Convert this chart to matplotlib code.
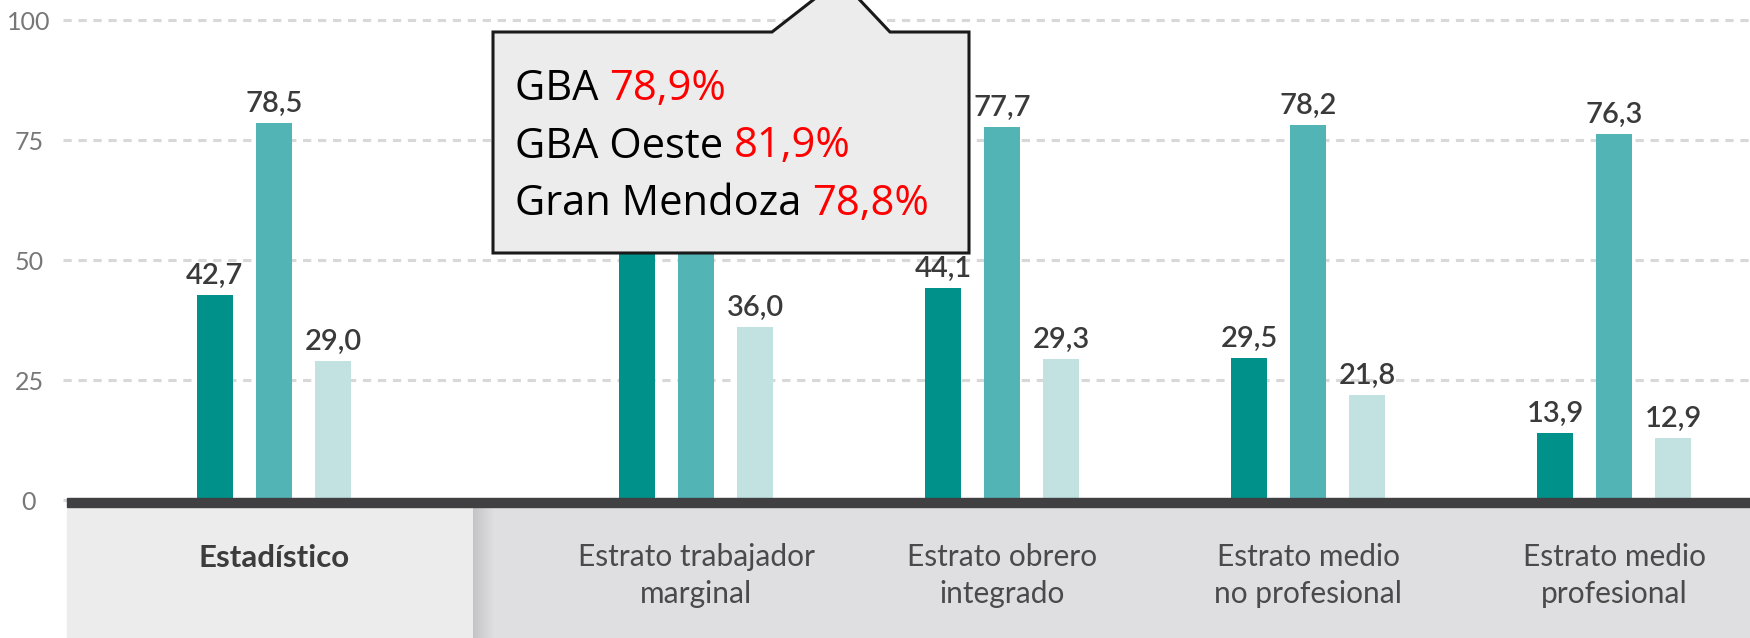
import matplotlib
matplotlib.use("Agg")
import matplotlib.pyplot as plt
import numpy as np
from matplotlib.patches import Rectangle, Polygon

# categories and the three series (group 2's first two bars sit behind the callout; estimated)
categories = ["Estadístico", "Estrato trabajador\nmarginal", "Estrato obrero\nintegrado",
              "Estrato medio\nno profesional", "Estrato medio\nprofesional"]
serie_1 = [42.7, 61.0, 44.1, 29.5, 13.9]
serie_2 = [78.5, 80.0, 77.7, 78.2, 76.3]
serie_3 = [29.0, 36.0, 29.3, 21.8, 12.9]
y_ticks = [0, 25, 50, 75, 100]
callout_names = ["GBA", "GBA Oeste", "Gran Mendoza"]
callout_values = ["78,9%", "81,9%", "78,8%"]
# (series, group) whose value label is covered by the callout in the original
hidden_labels = {(0, 1), (1, 1)}

colors = ["#00918b", "#53b4b5", "#c2e2e1"]
group_pos = np.array([0, 1.38, 2.38, 3.38, 4.38])
offset = 0.193
bar_w = 0.117
px = 4.8  # pixels per value unit

fig = plt.figure(figsize=(17.5, 6.38), dpi=100)
ax = fig.add_axes([63 / 1750, 0, 1 - 63 / 1750, 1])
ax.set_xlim(-0.6895, 4.8235)
ax.set_ylim(-28.75, 104.17)

# bars + value labels
for k, serie in enumerate([serie_1, serie_2, serie_3]):
    xs = group_pos + (k - 1) * offset
    bars = ax.bar(xs, serie, width=bar_w, color=colors[k], zorder=2)
    for g, (b, v) in enumerate(zip(bars, serie)):
        if (k, g) in hidden_labels:
            continue
        ax.annotate(f"{v:.1f}".replace(".", ","), (b.get_x() + b.get_width() / 2, v),
                    xytext=(0, 8), textcoords="offset points", ha="center", va="baseline",
                    fontsize=21, color="#3a3a3a", family="Lato", fontweight="semibold", zorder=3)

# dashed gridlines
ax.set_yticks(y_ticks)
ax.set_yticklabels([str(t) for t in y_ticks], family="Lato", fontsize=18, color="#777777")
for lab in ax.get_yticklabels():
    lab.set_ha("center")
ax.tick_params(axis="y", length=0, pad=24.5)
ax.tick_params(axis="x", length=0, labelbottom=False)
ax.grid(axis="y", color="#d8d8d8", lw=2.2, linestyle=(0, (2.7, 2.2)))
ax.set_axisbelow(True)
for s in ax.spines.values():
    s.set_visible(False)

# category panel below the baseline
x_left = -0.676
ax.add_patch(Rectangle((x_left, -28.75), 0.650 - x_left, 27.3, color="#ececec", zorder=1))
ax.add_patch(Rectangle((0.716, -28.75), 4.8235 - 0.716, 27.3, color="#dfdfe1", zorder=1))
grad = np.linspace(0, 1, 64).reshape(1, -1)
ax.imshow(grad, extent=(0.650, 0.716, -28.75, -1.45), aspect="auto", zorder=1,
          cmap=matplotlib.colors.LinearSegmentedColormap.from_list("sh", ["#c4c4c8", "#dfdfe1"]))
ax.add_patch(Rectangle((x_left, -1.46), 4.8235 - x_left, 1.88, color="#404042", zorder=4))

first_baseline = -67 / px
for i, (x, cat) in enumerate(zip(group_pos, categories)):
    n_lines = cat.count("\n")
    ax.text(x, first_baseline - n_lines * 36 / px, cat, ha="center", va="baseline",
            family="Lato", fontsize=22.5 if i == 0 else 21.5,
            fontweight="bold" if i == 0 else "normal", color="#3c3c3c" if i == 0 else "#4a4a4a",
            linespacing=1.4, zorder=5)

# callout box drawn in pixel coordinates on an overlay
ov = fig.add_axes([0, 0, 1, 1], facecolor="none")
ov.set_xlim(0, 1750)
ov.set_ylim(638, 0)
ov.axis("off")
ov.add_patch(Polygon([(493, 32), (772, 32), (840, -21), (890, 32), (969, 32), (969, 253), (493, 253)],
                     closed=True, facecolor="#ececec", edgecolor="#1a1a1a", lw=2.2, clip_on=False))
for j, (name, val) in enumerate(zip(callout_names, callout_values)):
    t = ov.text(515, 100 + j * 57.5, name + " ", ha="left", va="baseline", family="Open Sans",
                fontsize=30, color="black")
    ov.annotate(val, xy=(1, 0), xycoords=t, ha="left", va="bottom", family="Open Sans",
                fontsize=30, color="#ff0000")

fig.savefig("out.png", dpi=100)
